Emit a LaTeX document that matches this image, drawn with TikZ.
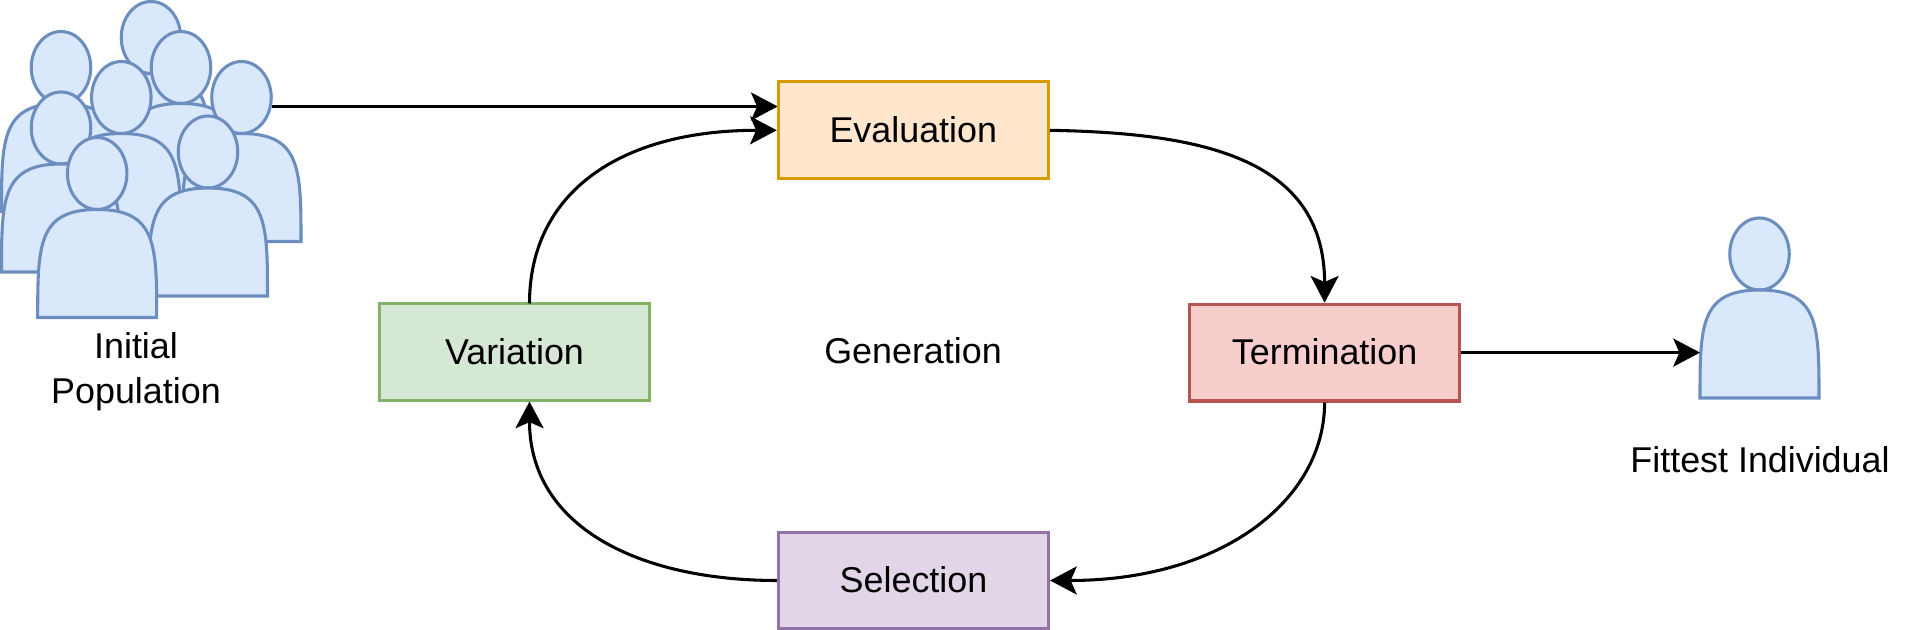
\documentclass[tikz,border=0pt]{standalone}
\usepackage{fontspec}
\setmainfont{Liberation Sans}
\usetikzlibrary{arrows.meta}
\definecolor{evalfill}{HTML}{FFE6CC}\definecolor{evalline}{HTML}{D79B00}
\definecolor{termfill}{HTML}{F8CECC}\definecolor{termline}{HTML}{B85450}
\definecolor{varfill}{HTML}{D5E8D4}\definecolor{varline}{HTML}{82B366}
\definecolor{selfill}{HTML}{E1D5E7}\definecolor{selline}{HTML}{9673A6}
\definecolor{actfill}{HTML}{DAE8FC}\definecolor{actline}{HTML}{6C8EBF}
% one person: name, left, top
\newcommand{\actor}[3]{
	\node[actorbox] (#1) at (#2,#3) {};
	\begin{scope}[shift={(#2,#3)}]
		\draw[actorline] (59.5,36) ellipse [x radius=29.75, y radius=36];
		\draw[actorline] (0,180) .. controls (0,108) and (0,72) .. (59.5,72) .. controls (119,72) and (119,108) .. (119,180) -- cycle;
	\end{scope}
}
\begin{document}
\begin{tikzpicture}[x=0.75pt,y=-0.75pt,
	font=\fontsize{26.9}{33.7}\selectfont,
	box/.style = {draw,line width=2.3pt,minimum width=202.5pt,minimum height=72.6pt,inner sep=0pt,text height=24pt,text depth=6pt},
	evalbox/.style = {box,draw=evalline,fill=evalfill},
	termbox/.style = {box,draw=termline,fill=termfill},
	varbox/.style = {box,draw=varline,fill=varfill},
	selbox/.style = {box,draw=selline,fill=selfill},
	actorbox/.style = {anchor=north west,inner sep=0pt,outer sep=1.15pt,minimum width=89.25pt,minimum height=135pt},
	actorline/.style = {draw=actline,fill=actfill,line width=2.3pt},
	edge/.style = {line width=2.3pt,-{Stealth[length=20pt,width=21pt,inset=4.5pt]}},
	]
	\useasboundingbox (0,0) rectangle (1911,630);

	\coordinate (start) at (272,106.5);
	\coordinate (evalin) at (777.7,106.5);
	\draw[edge] (start) -- (evalin);

	\actor{p1}{91.5}{1.5}
	\actor{p2}{1.5}{31.5}
	\actor{p4}{121.5}{31.5}
	\actor{p5}{182}{61.5}
	\actor{p3}{61.8}{61.5}
	\actor{p6}{1.5}{92}
	\actor{p7}{148.5}{116}
	\actor{p8}{37.7}{137.5}
	\actor{fittest}{1700}{218}

	\node[evalbox] (eval) at (913.3,130.3) {Evaluation};
	\node[termbox] (term) at (1324.6,352.6) {Termination};
	\node[varbox] (var) at (514.5,352.3) {Variation};
	\node[selbox] (sel) at (913.5,580.5) {Selection};
	\node (gen) at (913,351) {Generation};
	\node[align=center] (initial) at (136,371.5) {Initial\\Population};
	\node (fitlabel) at (1760,459.5) {Fittest Individual};

	\draw[edge] (term) -- (term -| fittest.west);
	\draw[edge] (eval.east) .. controls (1195,133) and (1324.6,155) .. (term.north);
	\draw[edge] (term.south) .. controls (1324.6,500) and (1222,580.5) .. (sel.east);
	\coordinate (varin) at (529.5,401.5);
	\coordinate (varout) at (529.5,303.5);
	\draw[edge] (sel.west) .. controls (637.5,580.5) and (529.5,526) .. (varin);
	\draw[edge] (varout) .. controls (529.5,194) and (618,130.3) .. (eval.west);
\end{tikzpicture}
\end{document}
